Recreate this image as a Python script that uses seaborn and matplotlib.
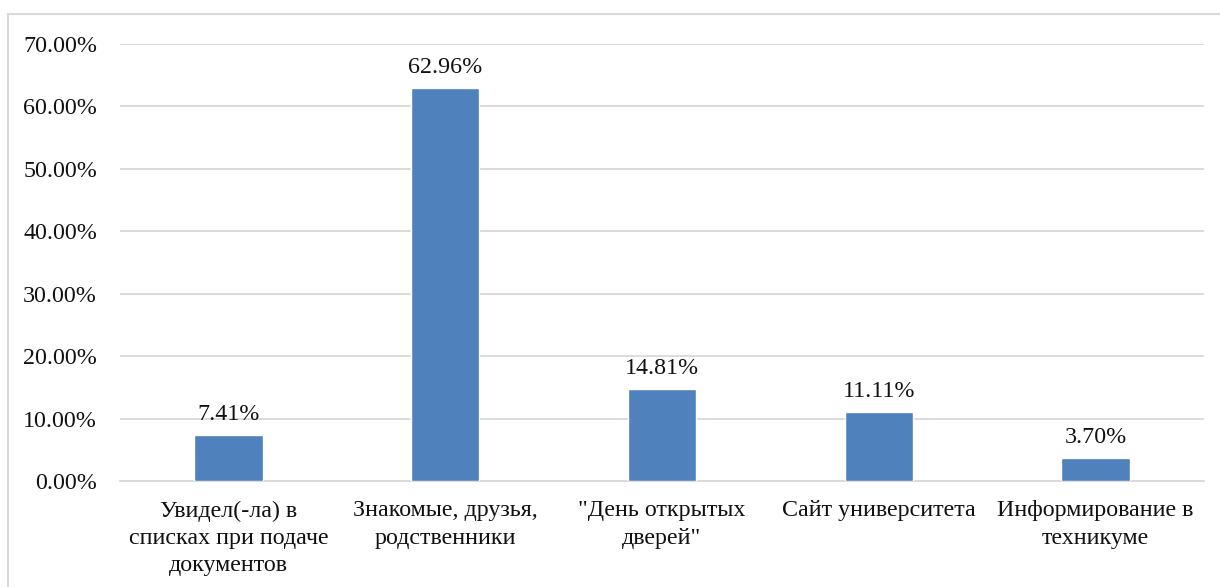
import pandas as pd
import numpy as np
import matplotlib
matplotlib.use('Agg')
import matplotlib.pyplot as plt
from matplotlib.ticker import FuncFormatter
from matplotlib.patches import Rectangle
import seaborn as sns

# data
categories = ['Увидел(-ла) в\nсписках при подаче\nдокументов',
              'Знакомые, друзья,\nродственники',
              '"День открытых\nдверей"',
              'Сайт университета',
              'Информирование в\nтехникуме']
shares = [0.0741, 0.6296, 0.1481, 0.1111, 0.0370]
y_ticks = [0.0, 0.1, 0.2, 0.3, 0.4, 0.5, 0.6, 0.7]

df = pd.DataFrame({'category': categories, 'share': shares})

sns.set_theme(style='white')
plt.rcParams['font.family'] = ['Liberation Serif', 'DejaVu Serif']

fig = plt.figure(figsize=(12.2, 5.87), dpi=100)
ax = fig.add_axes([120/1220, 1 - 481/587, (1204 - 120)/1220, (481 - 44)/587])

sns.barplot(data=df, x='category', y='share', color='#4F81BD', saturation=1,
            width=0.315, ax=ax, zorder=3)

ax.set_ylim(0, 0.7)
ax.set_xlim(-0.5, len(categories) - 0.5)
ax.set_yticks(y_ticks)
ax.yaxis.set_major_formatter(FuncFormatter(lambda v, _: '{:.2f}%'.format(v*100)))
ax.grid(axis='y', color='#D9D9D9', linewidth=1.3, zorder=0)
ax.set_axisbelow(True)
for s in ['top', 'right', 'left']:
    ax.spines[s].set_visible(False)
ax.spines['bottom'].set_color('#D9D9D9')
ax.spines['bottom'].set_linewidth(1.3)

fs = 17.3
ax.tick_params(axis='y', length=0, pad=16.5, labelsize=fs, labelcolor='#111111')
ax.tick_params(axis='x', length=0, pad=14, labelsize=fs, labelcolor='#111111')
for lbl in ax.get_xticklabels():
    lbl.set_linespacing(1.38)
ax.set_xlabel('')
ax.set_ylabel('')

for c in ax.containers:
    ax.bar_label(c, labels=['{:.2f}%'.format(v*100) for v in shares],
                 padding=7, fontsize=fs, color='#111111')

# light frame of the chart area (only top and left visible in the crop)
fig.patches.append(Rectangle((8/1220, -0.1), 1.2, 1 - 14/587 + 0.1,
                             transform=fig.transFigure, fill=False,
                             edgecolor='#D9D9D9', linewidth=1.5))

fig.savefig('out.png', dpi=100, facecolor='white')
